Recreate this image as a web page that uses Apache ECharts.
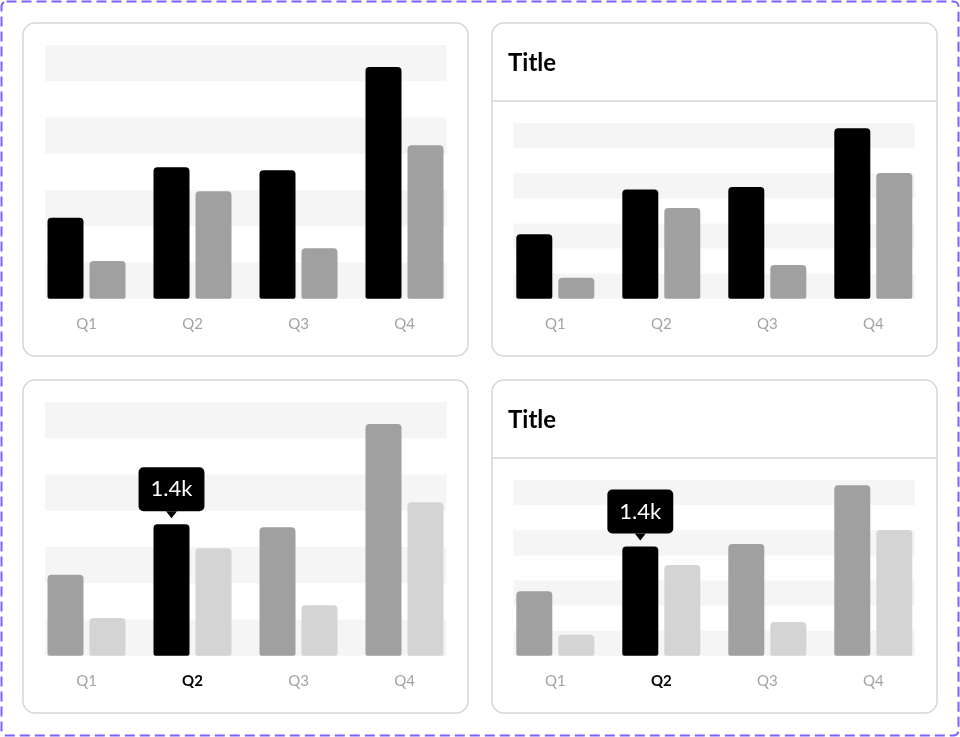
<!DOCTYPE html>
<html>
<head>
<meta charset="utf-8">
<script src="https://cdn.jsdelivr.net/npm/echarts@6/dist/echarts.min.js"></script>
<style>
html,body{margin:0;padding:0;background:#fff;}
#c{width:960px;height:737px;}
</style>
</head>
<body>
<div id="c"></div>
<script>
// ---- data ----
const categories = ['Q1', 'Q2', 'Q3', 'Q4'];
// plain (untitled) cards: top-left and bottom-left
const plainPrimary = [894, 1450, 1417, 2557];
const plainSecondary = [416, 1185, 556, 1693];
// titled cards: top-right and bottom-right
const titledPrimary = [1028, 1741, 1784, 2721];
const titledSecondary = [335, 1448, 538, 2007];
const cardTitle = 'Title';
const tooltipText = '1.4k';
const highlightIndex = 1;
const axisMax = 2800;
const axisInterval = 400;

// ---- layout ----
const panels = [
  { card: [23, 23, 445, 333], title: false, stripe: { left: 45, top: 45, width: 401.7, height: 253.7 }, barLeft: 33.5, primary: plainPrimary, secondary: plainSecondary, highlight: false },
  { card: [492, 23, 445, 333], title: true, stripe: { left: 513.3, top: 123.2, width: 401.7, height: 175.5 }, barLeft: 502.3, primary: titledPrimary, secondary: titledSecondary, highlight: false },
  { card: [23, 380, 445, 333], title: false, stripe: { left: 45, top: 402, width: 401.7, height: 253.7 }, barLeft: 33.5, primary: plainPrimary, secondary: plainSecondary, highlight: true },
  { card: [492, 380, 445, 333], title: true, stripe: { left: 513.3, top: 480.2, width: 401.7, height: 175.5 }, barLeft: 502.3, primary: titledPrimary, secondary: titledSecondary, highlight: true }
];

const FONT = 'Lato';
const grids = [], xAxes = [], yAxes = [], series = [], titles = [], graphics = [];

graphics.push({
  type: 'rect', z: -10, silent: true,
  shape: { x: 1.5, y: 1.5, width: 957, height: 734, r: 5 },
  style: { fill: '#fff', stroke: '#7b61ff', lineWidth: 2, lineDash: [10, 5] }
});

panels.forEach((p, i) => {
  const [cx, cy, cw, ch] = p.card;
  graphics.push({
    type: 'rect', z: -9, silent: true,
    shape: { x: cx, y: cy, width: cw, height: ch, r: 12 },
    style: { fill: '#fff', stroke: '#d6d6d6', lineWidth: 1.5 }
  });
  if (p.title) {
    graphics.push({
      type: 'line', z: -8, silent: true,
      shape: { x1: cx, y1: cy + 78, x2: cx + cw, y2: cy + 78 },
      style: { stroke: '#d6d6d6', lineWidth: 1.5 }
    });
    titles.push({
      text: cardTitle, left: cx + 16, top: cy + 28, padding: 0,
      textStyle: { fontFamily: FONT, fontWeight: 'bold', fontSize: 24, color: '#000' }
    });
  }
  // stripe grid
  const gs = grids.length;
  grids.push({ left: p.stripe.left, top: p.stripe.top, width: p.stripe.width, height: p.stripe.height, containLabel: false });
  xAxes.push({ gridIndex: gs, type: 'value', show: false, min: 0, max: 1 });
  yAxes.push({
    gridIndex: gs, type: 'value', min: 0, max: axisMax, interval: axisInterval, z: 1,
    axisLine: { show: false }, axisTick: { show: false }, axisLabel: { show: false },
    splitLine: { show: false },
    splitArea: { show: true, areaStyle: { color: ['#f5f5f5', 'rgba(255,255,255,0)'] } }
  });
  // bar grid
  const gb = grids.length;
  grids.push({ left: p.barLeft, top: p.stripe.top, width: 424, height: p.stripe.height, containLabel: false });
  xAxes.push({
    gridIndex: gb, type: 'category',
    data: categories.map((c, k) => (p.highlight && k === highlightIndex)
      ? { value: c, textStyle: { fontWeight: 'bold', color: '#000' } }
      : c),
    axisLine: { show: false }, axisTick: { show: false },
    axisLabel: { color: '#a3a3a3', fontSize: 15, fontFamily: FONT, margin: 18 }
  });
  yAxes.push({ gridIndex: gb, type: 'value', min: 0, max: axisMax, interval: axisInterval, show: false, splitLine: { show: false } });

  const c1 = p.highlight ? '#a0a0a0' : '#000';
  const c2 = p.highlight ? '#d4d4d4' : '#a0a0a0';
  const primaryData = p.primary.map((v, k) => {
    if (p.highlight && k === highlightIndex) {
      return {
        value: v,
        itemStyle: { color: '#000' },
        label: {
          show: true, position: 'top', distance: 13, formatter: tooltipText,
          backgroundColor: '#000', color: '#fff', fontSize: 22, fontFamily: FONT,
          lineHeight: 22, padding: [11, 12], borderRadius: 5
        }
      };
    }
    return v;
  });
  const s1 = {
    type: 'bar', xAxisIndex: gb, yAxisIndex: gb, data: primaryData,
    barWidth: 36, barGap: '16.67%', z: 3,
    itemStyle: { color: c1, borderRadius: [4, 4, 2, 2] }
  };
  if (p.highlight) {
    s1.markPoint = {
      symbol: 'triangle', symbolRotate: 180, symbolSize: [11, 7], symbolOffset: [0, -9.5],
      itemStyle: { color: '#000' }, label: { show: false }, silent: true,
      data: [{ coord: [categories[highlightIndex], p.primary[highlightIndex]] }]
    };
  }
  series.push(s1);
  series.push({
    type: 'bar', xAxisIndex: gb, yAxisIndex: gb, data: p.secondary,
    barWidth: 36, barGap: '16.67%', z: 3,
    itemStyle: { color: c2, borderRadius: [4, 4, 2, 2] }
  });
});

const chart = echarts.init(document.getElementById('c'), null, { renderer: 'canvas' });
chart.setOption({
  animation: false,
  backgroundColor: '#fff',
  title: titles,
  graphic: { elements: graphics },
  grid: grids,
  xAxis: xAxes,
  yAxis: yAxes,
  series: series
});
</script>
</body>
</html>
